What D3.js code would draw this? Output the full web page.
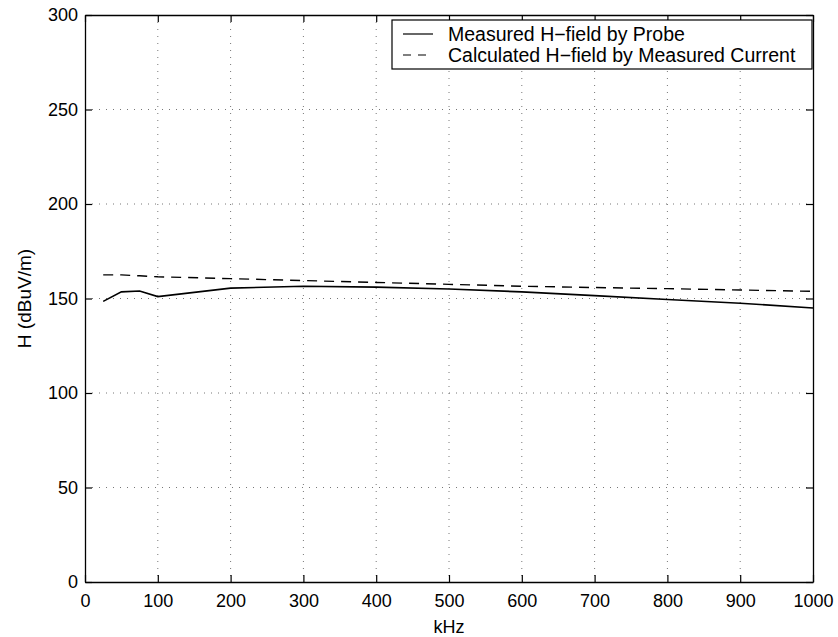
<!DOCTYPE html>
<html>
<head>
<meta charset="utf-8">
<script src="https://cdn.jsdelivr.net/npm/d3@7"></script>
<style>
  body { margin: 0; background: #fff; }
  text { font-family: "Liberation Sans", Arial, sans-serif; fill: #000; }
</style>
</head>
<body>
<svg id="chart" width="838" height="637"></svg>
<script>
// values
const xTicks = [0, 100, 200, 300, 400, 500, 600, 700, 800, 900, 1000];
const yTicks = [0, 50, 100, 150, 200, 250, 300];

const freqs = [25, 50, 75, 100, 200, 300, 400, 500, 600, 700, 800, 900, 1000];
const probeH = [148.5, 153.5, 154, 151, 155.5, 156.5, 156, 155, 153.5, 151.5, 149.5, 147.5, 145];
const calcH = [162.5, 162.5, 162, 161.5, 160.5, 159.5, 158.5, 157.5, 156.5, 155.8, 155.2, 154.5, 153.8];

const legendLabels = ["Measured H\u2212field by Probe", "Calculated H\u2212field by Measured Current"];

const svg = d3.select("#chart");
const margin = {left: 85, right: 25, top: 15, bottom: 55};
const width = 838 - margin.left - margin.right;
const height = 637 - margin.top - margin.bottom;

const x = d3.scaleLinear().domain([0, 1000]).range([0, width]);
const y = d3.scaleLinear().domain([0, 300]).range([height, 0]);

const g = svg.append("g").attr("transform", `translate(${margin.left},${margin.top})`);

// dotted grid
g.append("g").selectAll("line.vgrid")
  .data(xTicks.slice(1, -1))
  .enter().append("line")
  .attr("x1", d => x(d)).attr("x2", d => x(d))
  .attr("y1", 0).attr("y2", height)
  .attr("stroke", "#777").attr("stroke-width", 1)
  .attr("stroke-dasharray", "1,6");

g.append("g").selectAll("line.hgrid")
  .data(yTicks.slice(1, -1))
  .enter().append("line")
  .attr("x1", 0).attr("x2", width)
  .attr("y1", d => y(d)).attr("y2", d => y(d))
  .attr("stroke", "#777").attr("stroke-width", 1)
  .attr("stroke-dasharray", "1,6");

// axes with inward ticks
const fmt = d3.format("d");
const xAxis = d3.axisBottom(x).tickValues(xTicks).tickFormat(fmt).tickSizeInner(-7).tickSizeOuter(0).tickPadding(12);
const yAxis = d3.axisLeft(y).tickValues(yTicks).tickFormat(fmt).tickSizeInner(-7).tickSizeOuter(0).tickPadding(7);

const gx = g.append("g").attr("transform", `translate(0,${height})`).call(xAxis);
const gy = g.append("g").call(yAxis);
g.append("g").call(d3.axisTop(x).tickValues(xTicks).tickSizeInner(-7).tickSizeOuter(0).tickFormat(""));
g.append("g").attr("transform", `translate(${width},0)`)
  .call(d3.axisRight(y).tickValues(yTicks).tickSizeInner(-7).tickSizeOuter(0).tickFormat(""));

g.selectAll(".domain").attr("stroke", "#000").attr("stroke-width", 1.3);
g.selectAll(".tick line").attr("stroke", "#000").attr("stroke-width", 1.2);
g.selectAll(".tick text").style("font-size", "18px").style("font-family", "'Liberation Sans', Arial, sans-serif");
gx.selectAll(".tick text").attr("dy", "0.71em");

// lines
const line = d3.line().x((d, i) => x(freqs[i])).y(d => y(d));

g.append("path").datum(probeH)
  .attr("d", line).attr("fill", "none")
  .attr("stroke", "#000").attr("stroke-width", 1.6);

g.append("path").datum(calcH)
  .attr("d", line).attr("fill", "none")
  .attr("stroke", "#000").attr("stroke-width", 1.4)
  .attr("stroke-dasharray", "10,7");

// legend
const lg = g.append("g").attr("transform", `translate(${392 - margin.left},${20 - margin.top})`);
lg.append("rect").attr("x", 0).attr("y", 0).attr("width", 420).attr("height", 49)
  .attr("fill", "#fff").attr("stroke", "#000").attr("stroke-width", 1.2);

const styles = [null, "8,7"];
legendLabels.forEach((lab, i) => {
  const ly = 14 + i * 21;
  lg.append("line").attr("x1", 11).attr("x2", 41).attr("y1", ly).attr("y2", ly)
    .attr("stroke", "#000").attr("stroke-width", 1.2)
    .attr("stroke-dasharray", styles[i]);
  lg.append("text").attr("x", 56).attr("y", ly).attr("dy", "0.36em")
    .style("font-size", "19.5px").text(lab);
});

// axis titles
svg.append("text").attr("x", margin.left + width / 2).attr("y", 633)
  .attr("text-anchor", "middle").style("font-size", "18px").text("kHz");

svg.append("text")
  .attr("transform", `translate(31,${margin.top + height / 2}) rotate(-90)`)
  .attr("text-anchor", "middle").style("font-size", "19px").text("H (dBuV/m)");
</script>
</body>
</html>
